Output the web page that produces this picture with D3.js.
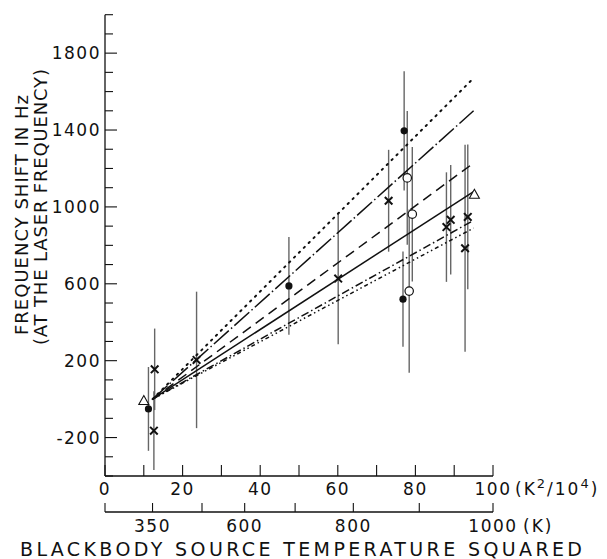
<!DOCTYPE html>
<html><head><meta charset="utf-8">
<script src="https://cdn.jsdelivr.net/npm/d3@7"></script>
<style>body{margin:0;background:#fff}svg{display:block}text{font-family:"DejaVu Sans",sans-serif;fill:#111}</style>
</head><body><svg id="c" width="607" height="559"></svg>
<script>
// ---- data ----
const yTicks = [-400,-300,-200,-100,0,100,200,300,400,500,600,700,800,900,1000,1100,1200,1300,1400,1500,1600,1700,1800,1900,2000];
const yLabels = [-200,200,600,1000,1400,1800];
const xTicks = [0,10,20,30,40,50,60,70,80,90,100];
const xLabels = [0,20,40,60,80,100];
const kTicks = [0,350,500,600,700,800,900,1000];
const kLabels = [350,600,800,1000];
// fitted lines: start at (12.25, 0) and end at x=95
const lineStartX = 12.25, lineStartY = 0, lineEndX = 95;
const lineEndY = [1670, 1500, 1228, 1080, 930, 890];
const lineStyles = ["1.4,5.5", "20,3,1.5,3", "10,6", "none", "8,3,1.5,3", "4,3,1.5,3,1.5,3"];
// data points
const ptType = ["tri","dot","x","x","x","dot","x","x","dot","circ","circ","circ","dot","x","x","x","x","tri"];
const ptX =    [10.0, 11.2, 12.8, 12.6, 23.6, 47.4, 60.1, 73.1, 77.1, 77.9, 79.2, 78.4, 76.8, 89.1, 88.0, 93.5, 92.8, 95.2];
const ptY =    [-10, -51, 155, -164, 204, 589, 627, 1032, 1396, 1151, 962, 562, 520, 933, 895, 948, 785, 1063];
const ptErr =  [0, 218, 212, 205, 355, 254, 342, 265, 310, 348, 350, 425, 248, 285, 285, 377, 538, 0];

const svg = d3.select("#c");
const x = d3.scaleLinear().domain([0,100]).range([105,493]);
const y = d3.scaleLinear().domain([-400,2000]).range([476,14.7]);
const kx = t => x(t*t/1e4);
const ink = "#111";

// Y axis
svg.append("line").attr("x1",105).attr("x2",105).attr("y1",y(2000)).attr("y2",y(-400)).attr("stroke",ink).attr("stroke-width",1.3);
svg.selectAll(".yt").data(yTicks).enter().append("line")
  .attr("x1",105).attr("x2",d=>yLabels.includes(d)?117:113).attr("y1",d=>y(d)).attr("y2",d=>y(d))
  .attr("stroke",ink).attr("stroke-width",1.1);
svg.selectAll(".yl").data(yLabels).enter().append("text")
  .attr("x",101).attr("y",d=>y(d)+6).attr("text-anchor","end").attr("font-size",17).attr("letter-spacing",1.5)
  .text(d=>d);

// X axis (K^2/10^4)
svg.append("line").attr("x1",105).attr("x2",493).attr("y1",476).attr("y2",476).attr("stroke",ink).attr("stroke-width",1.3);
svg.selectAll(".xt").data(xTicks).enter().append("line")
  .attr("x1",d=>x(d)).attr("x2",d=>x(d)).attr("y1",476).attr("y2",465).attr("stroke",ink).attr("stroke-width",1.1);
svg.selectAll(".xl").data(xLabels).enter().append("text")
  .attr("x",d=>x(d)).attr("y",495).attr("text-anchor","middle").attr("font-size",17).attr("letter-spacing",1.5)
  .text(d=>d);
const unit1 = svg.append("text").attr("x",x(100)+22).attr("y",495).attr("font-size",17).attr("letter-spacing",2);
unit1.append("tspan").text("(K");
unit1.append("tspan").attr("dy",-7).attr("font-size",13).text("2");
unit1.append("tspan").attr("dy",7).text("/10");
unit1.append("tspan").attr("dy",-7).attr("font-size",13).text("4");
unit1.append("tspan").attr("dy",7).text(")");

// K axis
svg.append("line").attr("x1",105).attr("x2",493).attr("y1",512).attr("y2",512).attr("stroke",ink).attr("stroke-width",1.3);
svg.selectAll(".kt").data(kTicks).enter().append("line")
  .attr("x1",d=>kx(d)).attr("x2",d=>kx(d)).attr("y1",512).attr("y2",503).attr("stroke",ink).attr("stroke-width",1.1);
svg.selectAll(".kl").data(kLabels).enter().append("text")
  .attr("x",d=>kx(d)).attr("y",532).attr("text-anchor","middle").attr("font-size",17).attr("letter-spacing",1.5)
  .text(d=>d);
svg.append("text").attr("x",kx(1000)+30).attr("y",532).attr("font-size",17).attr("letter-spacing",2).text("(K)");

// titles
svg.append("text").attr("x",301).attr("y",556).attr("text-anchor","middle").attr("font-size",19)
  .attr("textLength",562).attr("lengthAdjust","spacing").text("BLACKBODY SOURCE TEMPERATURE SQUARED");
svg.append("text").attr("transform","translate(28,215) rotate(-90)").attr("text-anchor","middle").attr("font-size",18)
  .attr("textLength",240).attr("lengthAdjust","spacing").text("FREQUENCY SHIFT IN Hz");
svg.append("text").attr("transform","translate(47,207) rotate(-90)").attr("text-anchor","middle").attr("font-size",18)
  .attr("textLength",276).attr("lengthAdjust","spacing").text("(AT THE LASER FREQUENCY)");

// error bars
const idx = d3.range(ptX.length);
svg.selectAll(".eb").data(idx.filter(i=>ptErr[i]>0)).enter().append("line")
  .attr("x1",i=>x(ptX[i])).attr("x2",i=>x(ptX[i])).attr("y1",i=>y(ptY[i]-ptErr[i])).attr("y2",i=>y(ptY[i]+ptErr[i]))
  .attr("stroke","#666").attr("stroke-width",1.4);

// fitted lines
svg.selectAll(".fl").data(lineEndY).enter().append("line")
  .attr("x1",x(lineStartX)).attr("y1",y(lineStartY)).attr("x2",x(lineEndX)).attr("y2",d=>y(d))
  .attr("stroke",ink).attr("stroke-width",(d,i)=>i===0?2:1.5)
  .attr("stroke-linecap",(d,i)=>i===0?"round":"butt")
  .attr("stroke-dasharray",(d,i)=>lineStyles[i]==="none"?null:lineStyles[i]);

// markers
idx.forEach(i=>{
  const cx = x(ptX[i]), cy = y(ptY[i]), t = ptType[i];
  if (t==="dot") svg.append("circle").attr("cx",cx).attr("cy",cy).attr("r",3.6).attr("fill",ink);
  else if (t==="circ") svg.append("circle").attr("cx",cx).attr("cy",cy).attr("r",4.2).attr("fill","#fff").attr("stroke",ink).attr("stroke-width",1.2);
  else if (t==="x") svg.append("path").attr("d",`M${cx-3.8},${cy-3.8}L${cx+3.8},${cy+3.8}M${cx-3.8},${cy+3.8}L${cx+3.8},${cy-3.8}`).attr("stroke",ink).attr("stroke-width",2);
  else if (t==="tri") svg.append("path").attr("d",`M${cx},${cy-5.5}L${cx+5},${cy+3.5}L${cx-5},${cy+3.5}Z`).attr("fill","#fff").attr("stroke",ink).attr("stroke-width",1.1);
});
</script></body></html>
